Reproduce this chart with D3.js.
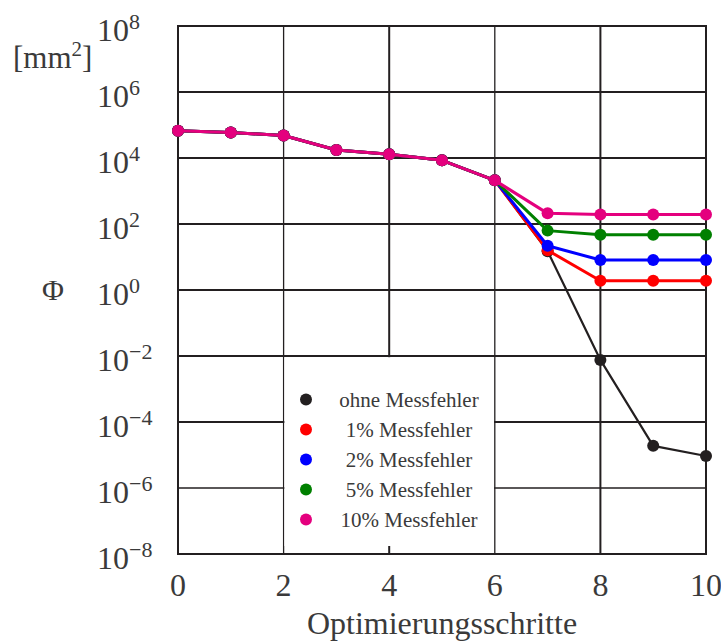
<!DOCTYPE html>
<html>
<head>
<meta charset="utf-8">
<script src="https://cdn.jsdelivr.net/npm/d3@7"></script>
<style>
body{margin:0;background:#fff;}
</style>
</head>
<body>
<svg width="721" height="643" font-family="'Liberation Serif', 'DejaVu Serif', serif"></svg>
<script>
"use strict";

var steps=[0,1,2,3,4,5,6,7,8,9,10];
var ohne=[6.7e4,5.9e4,4.8e4,1.75e4,1.29e4,8.5e3,2.1e3,15,7.6e-3,1.9e-5,9.3e-6];
var fehler1=[6.7e4,5.9e4,4.8e4,1.75e4,1.29e4,8.5e3,2.1e3,16,1.9,1.9,1.9];
var fehler2=[6.7e4,5.9e4,4.8e4,1.75e4,1.29e4,8.5e3,2.1e3,22,8.1,8.1,8.1];
var fehler5=[6.7e4,5.9e4,4.8e4,1.75e4,1.29e4,8.5e3,2.1e3,63,47,47,47];
var fehler10=[6.7e4,5.9e4,4.8e4,1.75e4,1.29e4,8.5e3,2.1e3,210,195,195,195];
var seriesNames=["ohne Messfehler","1% Messfehler","2% Messfehler","5% Messfehler","10% Messfehler"];
var seriesColors=["#231f20","#ff0000","#0000ff","#008000","#e4007e"];
var xTicks=[0,2,4,6,8,10];
var yExponents=[-8,-6,-4,-2,0,2,4,6,8];

function chart(){

	var svg=d3.select("svg");
	var xScale=d3.scaleLinear().domain([0,10]).range([178,706]);
	var yScale=d3.scaleLog().domain([1e-8,1e8]).range([554,26]);
	var ink="#231f20";
	var textInk="#3a3a3a";

	// grid
	svg.append("g")
		.selectAll("line")
		.data(xTicks)
		.enter().append("line")
		.attr("x1",function(d){return xScale(d);})
		.attr("x2",function(d){return xScale(d);})
		.attr("y1",yScale(1e8)).attr("y2",yScale(1e-8))
		.attr("stroke",ink)
		.attr("stroke-width",function(d){return (d===2||d===6)?1.3:2;});

	svg.append("g")
		.selectAll("line")
		.data(yExponents)
		.enter().append("line")
		.attr("x1",xScale(0)).attr("x2",xScale(10))
		.attr("y1",function(d){return yScale(Math.pow(10,d));})
		.attr("y2",function(d){return yScale(Math.pow(10,d));})
		.attr("stroke",ink)
		.attr("stroke-width",function(d){return d===-6?1.4:2;});

	// legend background
	var lx0=xScale(2)+0.8, lx1=xScale(6)-0.8;
	var ly0=yScale(1e-2)+1.2, ly1=yScale(1e-8)-8;
	svg.append("rect")
		.attr("x",lx0).attr("y",ly0)
		.attr("width",lx1-lx0).attr("height",ly1-ly0)
		.attr("fill","#fff");

	// frame
	svg.append("rect")
		.attr("x",xScale(0)).attr("y",yScale(1e8))
		.attr("width",xScale(10)-xScale(0))
		.attr("height",yScale(1e-8)-yScale(1e8))
		.attr("fill","none").attr("stroke",ink).attr("stroke-width",2);

	// tick labels
	var yl=svg.append("g").selectAll("text")
		.data(yExponents)
		.enter().append("text")
		.attr("x",97)
		.attr("y",function(d){return yScale(Math.pow(10,d))+14.5;})
		.attr("fill",textInk)
		.style("font-size","32px");
	yl.append("tspan").text("10");
	yl.append("tspan")
		.attr("dy",-12)
		.style("font-size","22px")
		.text(function(d){return d<0?"\u2212"+(-d):String(d);});

	svg.append("g").selectAll("text")
		.data(xTicks)
		.enter().append("text")
		.attr("x",function(d){return xScale(d);})
		.attr("y",596)
		.attr("text-anchor","middle")
		.attr("fill",textInk)
		.style("font-size","32px")
		.text(function(d){return d;});

	svg.append("text")
		.attr("x",(xScale(0)+xScale(10))/2)
		.attr("y",634)
		.attr("text-anchor","middle")
		.attr("fill",textInk)
		.style("font-size","32px")
		.text("Optimierungsschritte");

	svg.append("text")
		.attr("x",53).attr("y",yScale(1)+10)
		.attr("text-anchor","middle")
		.attr("fill",textInk)
		.style("font-size","30px")
		.text("\u03a6");

	var unit=svg.append("text")
		.attr("x",13).attr("y",68)
		.attr("fill",textInk)
		.style("font-size","31px");
	unit.append("tspan").text("[mm");
	unit.append("tspan").attr("dy",-12).style("font-size","21px").text("2");
	unit.append("tspan").attr("dy",12).text("]");

	// series
	var allSeries=[ohne,fehler1,fehler2,fehler5,fehler10];
	var line=d3.line()
		.x(function(d,i){return xScale(steps[i]);})
		.y(function(d){return yScale(d);});

	allSeries.forEach(function(values,k){
		var g=svg.append("g");
		g.append("path")
			.attr("d",line(values))
			.attr("fill","none")
			.attr("stroke",seriesColors[k])
			.attr("stroke-width",k===0?2.2:3)
			.attr("stroke-linejoin","round");
		g.selectAll("circle")
			.data(values)
			.enter().append("circle")
			.attr("cx",function(d,i){return xScale(steps[i]);})
			.attr("cy",function(d){return yScale(d);})
			.attr("r",6)
			.attr("fill",seriesColors[k]);
	});

	// legend
	var leg=svg.append("g").selectAll("g")
		.data(seriesNames)
		.enter().append("g")
		.attr("transform",function(d,i){return "translate(0,"+(399.5+i*30)+")";});
	leg.append("circle")
		.attr("cx",306).attr("cy",0).attr("r",6)
		.attr("fill",function(d,i){return seriesColors[i];});
	leg.append("text")
		.attr("x",409).attr("y",7)
		.attr("text-anchor","middle")
		.attr("fill",textInk)
		.style("font-size","21px")
		.text(function(d){return d;});
}

chart();
</script>
</body>
</html>
